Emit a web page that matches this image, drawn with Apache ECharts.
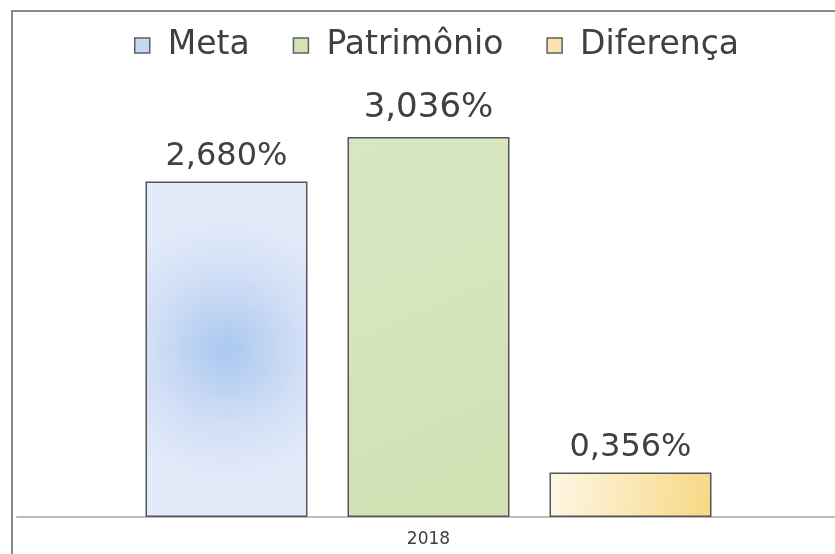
<!DOCTYPE html>
<html>
<head>
<meta charset="utf-8">
<title>Meta x Patrimônio</title>
<script src="https://cdn.jsdelivr.net/npm/echarts@6/dist/echarts.min.js"></script>
<style>
  html, body { margin: 0; padding: 0; background: #fff; }
  #chart { width: 835px; height: 554px; }
</style>
</head>
<body>
<div id="chart"></div>
<script>
// dados do gráfico
const categories = ['2018'];
const seriesNames = ['Meta', 'Patrimônio', 'Diferença'];
const metaValues = [2.680];
const patrimonioValues = [3.036];
const diferencaValues = [0.356];

const chart = echarts.init(document.getElementById('chart'));

// cores das barras
const metaColor = new echarts.graphic.RadialGradient(0.5, 0.5, 0.8, [
  { offset: 0, color: '#aac8ef' },
  { offset: 0.6, color: '#d2dff6' },
  { offset: 1, color: '#e2eaf9' }
]);
const patrimonioColor = new echarts.graphic.LinearGradient(0, 0, 1, 1, [
  { offset: 0, color: '#d8e7c2' },
  { offset: 1, color: '#d0e1b3' }
]);
const diferencaColor = new echarts.graphic.LinearGradient(0, 0, 1, 0.3, [
  { offset: 0, color: '#fdf7e6' },
  { offset: 1, color: '#f8d886' }
]);

const fmt = p => p.value.toFixed(3).replace('.', ',') + '%';

const labelStyle = {
  show: true,
  position: 'top',
  distance: 9,
  color: '#404040',
  fontFamily: 'DejaVu Sans',
  fontSize: 32,
  formatter: fmt
};

const barBase = {
  type: 'bar',
  barWidth: 162,
  barGap: '24.7%',
  label: labelStyle
};

const option = {
  backgroundColor: '#ffffff',
  animation: false,
  legend: {
    top: 24,
    left: 129,
    itemWidth: 15,
    itemHeight: 15,
    itemGap: 43,
    icon: 'rect',
    textStyle: {
      color: '#404040',
      fontFamily: 'DejaVu Sans',
      fontSize: 33,
      padding: [0, 0, 0, 13]
    },
    data: [
      { name: 'Meta', itemStyle: { color: '#c6d8f1', borderColor: '#606060', borderWidth: 1.5 } },
      { name: 'Patrimônio', itemStyle: { color: '#d3e2b7', borderColor: '#606060', borderWidth: 1.5 } },
      { name: 'Diferença', itemStyle: { color: '#f9e4b0', borderColor: '#606060', borderWidth: 1.5 } }
    ]
  },
  grid: {
    left: 22,
    width: 829,
    top: 79,
    bottom: 37
  },
  xAxis: {
    type: 'category',
    data: categories,
    axisTick: { show: false },
    axisLine: { lineStyle: { color: '#a8a8a8', width: 1.5 } },
    axisLabel: {
      color: '#404040',
      fontFamily: 'DejaVu Sans',
      fontSize: 17,
      margin: 14
    }
  },
  yAxis: {
    type: 'value',
    min: 0,
    max: 3.5,
    show: false,
    splitLine: { show: false }
  },
  graphic: [
    {
      type: 'rect',
      shape: { x: 12, y: 11, width: 900, height: 700 },
      style: { fill: 'none', stroke: '#8a8a8a', lineWidth: 2 },
      silent: true
    },
    {
      // início da linha do eixo à esquerda
      type: 'line',
      shape: { x1: 16, y1: 517, x2: 23, y2: 517 },
      style: { stroke: '#a8a8a8', lineWidth: 1.5 },
      silent: true
    }
  ],
  series: [
    Object.assign({}, barBase, {
      name: seriesNames[0],
      data: metaValues,
      itemStyle: { color: metaColor, borderColor: '#555555', borderWidth: 1.5 }
    }),
    Object.assign({}, barBase, {
      name: seriesNames[1],
      data: patrimonioValues,
      itemStyle: { color: patrimonioColor, borderColor: '#555555', borderWidth: 1.5 },
      label: Object.assign({}, labelStyle, { fontSize: 34, distance: 12 })
    }),
    Object.assign({}, barBase, {
      name: seriesNames[2],
      data: diferencaValues,
      itemStyle: { color: diferencaColor, borderColor: '#555555', borderWidth: 1.5 }
    })
  ]
};

chart.setOption(option);
</script>
</body>
</html>
